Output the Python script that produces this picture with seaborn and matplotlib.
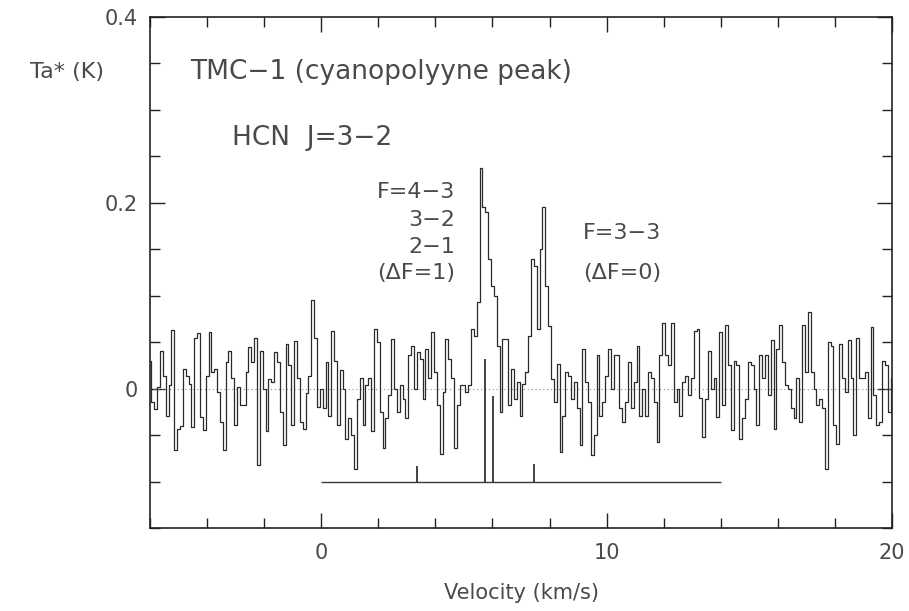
import numpy as np
import pandas as pd
import matplotlib
matplotlib.use("Agg")
import matplotlib.pyplot as plt
import seaborn as sns
from matplotlib.ticker import FixedLocator, MultipleLocator

# ---------------- data ----------------
v_start = -6.0          # km/s, first channel
dv = 0.1                # km/s, channel width

temp_a = [0.030, -0.014, -0.022, 0.002, 0.040, 0.014, -0.029, 0.004, 0.063, -0.066,
          -0.043, -0.040, 0.021, 0.014, 0.005, -0.041, 0.054, 0.060, -0.030, -0.045,
          0.014, 0.061, 0.018, 0.021, -0.004, -0.036, -0.066, 0.029, 0.041, 0.011,
          -0.039, 0.002, -0.018, -0.018, 0.018, 0.045, 0.029, 0.055, -0.082, 0.041,
          0.000, -0.046, 0.010, 0.007, 0.039, 0.029, -0.025, -0.061, 0.048, 0.025,
          -0.039, 0.051, 0.011, -0.036, -0.043, -0.005, 0.014, 0.095, 0.055, -0.020]
temp_b = [0.000, -0.021, 0.029, -0.029, 0.062, 0.030, -0.039, 0.020, 0.000, -0.054,
          -0.032, -0.050, -0.087, -0.011, 0.011, -0.039, 0.004, 0.011, -0.046, 0.064,
          0.050, -0.025, -0.064, -0.032, -0.007, 0.053, 0.000, -0.025, 0.004, -0.011,
          -0.032, 0.036, 0.046, 0.000, 0.039, 0.032, -0.011, 0.043, 0.011, 0.061,
          0.018, -0.018, -0.070, -0.004, 0.053, 0.032, 0.011, -0.064, -0.018, 0.004]
temp_c = [0.004, -0.004, 0.004, 0.064, 0.057, 0.093, 0.238, 0.195, 0.190, 0.140,
          0.110, 0.100, 0.046, -0.025, 0.053, 0.053, -0.018, 0.021, -0.011, 0.007,
          -0.029, 0.005, 0.018, 0.057, 0.140, 0.132, 0.064, 0.150, 0.196, 0.110,
          0.067, 0.010, -0.014, 0.027, -0.068, -0.029, 0.018, 0.014, -0.011, 0.007]
temp_d = [-0.021, -0.061, 0.043, 0.007, -0.014, -0.071, -0.050, 0.036, -0.029, -0.014,
          0.014, 0.043, 0.000, 0.036, 0.036, -0.021, -0.036, -0.014, 0.029, -0.021,
          0.007, 0.046, -0.029, 0.000, -0.029, 0.018, 0.011, -0.014, -0.057, 0.036,
          0.071, 0.036, 0.025, 0.071, -0.014, 0.000, -0.029, 0.007, 0.014, -0.007,
          0.011, 0.062, 0.064, -0.010, -0.052, -0.011, 0.040, 0.000, 0.011, -0.030]
temp_e = [0.061, -0.018, 0.068, 0.025, -0.045, 0.030, 0.025, -0.054, -0.032, -0.011,
          0.029, 0.025, 0.000, -0.039, 0.036, 0.011, 0.036, -0.007, 0.052, -0.043,
          0.043, 0.068, 0.029, 0.004, 0.000, -0.021, -0.032, 0.011, -0.036, 0.068,
          0.018, 0.082, 0.018, 0.000, -0.018, -0.011, -0.021, -0.087, 0.050, 0.046,
          -0.039, -0.060, 0.048, 0.011, -0.004, 0.052, 0.011, -0.050, 0.055, 0.011,
          0.011, 0.018, -0.032, 0.066, -0.007, -0.039, -0.036, 0.030, 0.025, -0.025, 0.011]

# hyperfine component markers (velocity, top of stick)
hf_vel = [3.37, 5.74, 6.01, 7.47]
hf_top = [-0.083, 0.032, -0.008, -0.081]
window_level = -0.10
window_range = [0.0, 14.0]

x_ticklabels = ["0", "10", "20"]
y_ticklabels = ["0", "0.2", "0.4"]

temps = np.array(temp_a + temp_b + temp_c + temp_d + temp_e)
vel = v_start + dv * np.arange(len(temps))
df = pd.DataFrame({"Velocity": vel, "Ta": temps})

# ---------------- figure ----------------
sns.set_theme(style="white")
plt.rcParams["font.family"] = ["DejaVu Sans"]
TXT = "#4a4a4a"

W, H = 909, 611
fig = plt.figure(figsize=(W / 100, H / 100), dpi=100)
ax = fig.add_axes([150 / W, 1 - 528 / H, (892 - 150) / W, (528 - 17) / H])

ax.axhline(0, color="#888888", lw=0.8, ls=(0, (1, 2.5)), zorder=1)
ax.hlines(window_level, window_range[0], window_range[1], color="#3a3a3a",
          lw=1.0, zorder=2)
ax.vlines(hf_vel, window_level, hf_top, color="#222222", lw=1.2, zorder=2)

sns.lineplot(data=df, x="Velocity", y="Ta", ax=ax, drawstyle="steps-mid",
             color="#2a2a2a", lw=0.9, estimator=None, errorbar=None, zorder=3)

ax.set_xlim(-6, 20)
ax.set_ylim(-0.15, 0.4)

for s in ax.spines.values():
    s.set_visible(True)
    s.set_color("#222222")
    s.set_linewidth(1.2)

ax.xaxis.set_major_locator(FixedLocator([0, 10, 20]))
ax.set_xticklabels(x_ticklabels)
ax.xaxis.set_minor_locator(MultipleLocator(2))
ax.yaxis.set_major_locator(FixedLocator([0, 0.2, 0.4]))
ax.set_yticklabels(y_ticklabels)
ax.yaxis.set_minor_locator(MultipleLocator(0.05))
ax.tick_params(which="both", direction="in", top=True, right=True,
               bottom=True, left=True, color="#222222", width=1.0)
ax.tick_params(which="major", length=11, labelsize=15, labelcolor=TXT)
ax.tick_params(which="minor", length=7)
ax.tick_params(axis="x", which="major", pad=11)
ax.tick_params(axis="y", which="major", pad=9)

ax.set_xlabel("Velocity (km/s)", fontsize=15, color=TXT, labelpad=14)
ax.set_ylabel("")

def ftxt(px, py, s, ha="left", size=16):
    fig.text(px / W, 1 - py / H, s, ha=ha, va="center", fontsize=size, color=TXT)

ftxt(67, 72, "Ta* (K)", ha="center", size=16)
ftxt(190, 72, "TMC\u22121 (cyanopolyyne peak)", size=19)
ftxt(232, 138, "HCN  J=3\u22122", size=19)
ftxt(455, 192, "F=4\u22123", ha="right")
ftxt(455, 220, "3\u22122", ha="right")
ftxt(455, 247, "2\u22121", ha="right")
ftxt(455, 273, "(\u0394F=1)", ha="right")
ftxt(583, 233, "F=3\u22123")
ftxt(583, 273, "(\u0394F=0)")

fig.savefig("out.png", dpi=100)
